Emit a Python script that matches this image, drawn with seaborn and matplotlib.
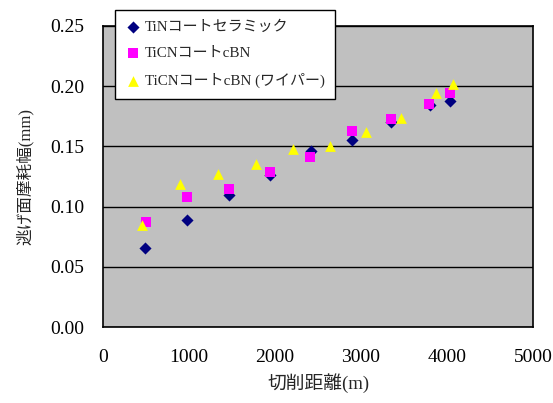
import matplotlib
matplotlib.use("Agg")
import matplotlib.pyplot as plt
import seaborn as sns
import pandas as pd

# Data
series_names = ["TiNコートセラミック", "TiCNコートcBN", "TiCNコートcBN (ワイパー)"]
tin_x = [490, 980, 1465, 1945, 2420, 2895, 3350, 3800, 4035]
tin_y = [0.066, 0.089, 0.110, 0.126, 0.146, 0.155, 0.170, 0.184, 0.188]
ticn_x = [500, 980, 1465, 1945, 2410, 2895, 3350, 3790, 4035]
ticn_y = [0.087, 0.108, 0.115, 0.129, 0.141, 0.163, 0.173, 0.185, 0.194]
wip_x = [455, 895, 1335, 1780, 2210, 2640, 3060, 3465, 3870, 4070]
wip_y = [0.085, 0.119, 0.127, 0.135, 0.148, 0.150, 0.162, 0.174, 0.194, 0.202]
x_ticks = [0, 1000, 2000, 3000, 4000, 5000]
y_ticks = [0.00, 0.05, 0.10, 0.15, 0.20, 0.25]
x_label = "切削距離(m)"
y_label = "逃げ面摩耗幅(mm)"

df = pd.concat([
    pd.DataFrame({"x": tin_x, "y": tin_y, "s": series_names[0]}),
    pd.DataFrame({"x": ticn_x, "y": ticn_y, "s": series_names[1]}),
    pd.DataFrame({"x": wip_x, "y": wip_y, "s": series_names[2]}),
], ignore_index=True)

sns.set_style("white")
plt.rcParams["font.family"] = ["Liberation Serif", "Noto Sans CJK JP", "DejaVu Sans"]

fig = plt.figure(figsize=(5.53, 4.03), dpi=100)
ax = fig.add_axes([103 / 553, 1 - 327 / 403, 430 / 553, 301 / 403])
ax.set_facecolor("#C0C0C0")

palette = {series_names[0]: "#000080", series_names[1]: "#FF00FF", series_names[2]: "#FFFF00"}
markers = {series_names[0]: "D", series_names[1]: "s", series_names[2]: "^"}
sizes = {series_names[0]: 38, series_names[1]: 45, series_names[2]: 60}

for name in series_names:
    sub = df[df["s"] == name]
    sns.scatterplot(data=sub, x="x", y="y", color=palette[name], marker=markers[name],
                    s=sizes[name], linewidth=0, ax=ax, label=name, zorder=3)

ax.set_xlim(0, 5000)
ax.set_ylim(0, 0.25)
ax.set_xticks(x_ticks)
ax.set_yticks(y_ticks)
ax.set_xticklabels([str(t) for t in x_ticks])
ax.set_yticklabels([f"{t:.2f}" for t in y_ticks])
ax.grid(axis="y", color="black", linewidth=1.0)
ax.grid(axis="x", visible=False)
ax.set_axisbelow(True)
for sp in ax.spines.values():
    sp.set_color("black")
    sp.set_linewidth(1.2)
ax.tick_params(axis="both", direction="in", length=4, width=1, colors="black",
               labelsize=14)
ax.tick_params(axis="y", pad=13.5)
ax.tick_params(axis="x", pad=16)
ax.set_xlabel(x_label, fontsize=13.5, labelpad=5)
ax.set_ylabel(y_label, fontsize=12, labelpad=12)

ax.get_legend().remove()
handles, labels = ax.get_legend_handles_labels()
leg = fig.legend(handles, labels, loc="upper left",
                 bbox_to_anchor=(115 / 553, 1 - 10 / 403), fontsize=10.8,
                 frameon=True, fancybox=False, framealpha=1, edgecolor="black",
                 borderpad=0.7, labelspacing=0.85, handletextpad=0.3,
                 handlelength=1.0, borderaxespad=0)
leg.get_frame().set_linewidth(1.0)

fig.savefig("out.png", dpi=100)
